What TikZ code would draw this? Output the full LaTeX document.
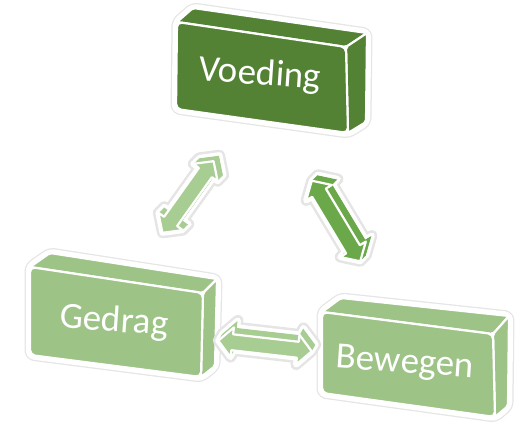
\documentclass[tikz,border=0pt]{standalone}
\usepackage{fontspec}
\setmainfont{Carlito}
\definecolor{dkgreen}{HTML}{548235}
\definecolor{ltgreen}{HTML}{9DC387}
\definecolor{argreen}{HTML}{A8CD93}
\definecolor{midgreen}{HTML}{6AA84A}
\definecolor{halo}{gray}{0.9}
\tikzset{
  lbl/.style={text=white, font=\fontsize{37}{42}\selectfont, inner sep=0pt},
  halostroke/.style={draw=halo, line width=11pt, line join=round, fill=white},
  whitestroke/.style={draw=white, line width=8.5pt, line join=round, fill=white},
  facestroke/.style={draw=white, line width=2.2pt, line join=round},
}
% double arrow outline in local coordinates
\newcommand\apath[1]{(-#1/2,0) -- ({-#1/2+14},15) -- ({-#1/2+14},8) -- ({#1/2-14},8) -- ({#1/2-14},15) -- ({#1/2},0) -- ({#1/2-14},-15) -- ({#1/2-14},-8) -- ({-#1/2+14},-8) -- ({-#1/2+14},-15) -- cycle}
% #1 cx #2 cy #3 angle #4 length #5 ex #6 ey #7 colour
\newcommand\tdarrow[7]{%
  \foreach \i in {10,...,0}{%
    \begin{scope}[shift={({#5*\i/10},{#6*\i/10})}]
      \begin{scope}[shift={(#1,#2)},rotate=#3]
        \path[halostroke] \apath{#4};
      \end{scope}
    \end{scope}}
  \foreach \i in {10,...,0}{%
    \begin{scope}[shift={({#5*\i/10},{#6*\i/10})}]
      \begin{scope}[shift={(#1,#2)},rotate=#3]
        \path[draw=white, line width=6pt, line join=round] \apath{#4};
      \end{scope}
    \end{scope}}
  \begin{scope}[shift={(#5,#6)}]
    \begin{scope}[shift={(#1,#2)},rotate=#3]
      \path[fill=#7, facestroke] \apath{#4};
    \end{scope}
  \end{scope}
  \foreach \i in {9,...,1}{%
    \begin{scope}[shift={({#5*\i/10},{#6*\i/10})}]
      \begin{scope}[shift={(#1,#2)},rotate=#3]
        \path[fill=#7] \apath{#4};
      \end{scope}
    \end{scope}}
  \begin{scope}[shift={(#1,#2)},rotate=#3]
    \path[fill=#7, facestroke] \apath{#4};
  \end{scope}
}
% 3D box from named coordinates
\newcommand\drawbox[2]{%
  \path[halostroke, rounded corners=4pt] (#1ftl) -- (#1btl) -- (#1btr) -- (#1bbr) -- (#1fbr) -- (#1fbl) -- cycle;
  \path[whitestroke, rounded corners=4pt] (#1ftl) -- (#1btl) -- (#1btr) -- (#1bbr) -- (#1fbr) -- (#1fbl) -- cycle;
  \path[fill=#2, facestroke, rounded corners=2pt] (#1ftl) -- (#1btl) -- (#1btr) -- (#1ftr) -- cycle;
  \path[fill=#2, facestroke, rounded corners=2pt] (#1ftr) -- (#1btr) -- (#1bbr) -- (#1fbr) -- cycle;
  \path[fill=#2, facestroke, rounded corners=5pt] (#1ftl) -- (#1ftr) -- (#1fbr) -- (#1fbl) -- cycle;
}
\begin{document}
\begin{tikzpicture}[x=1pt, y=-1pt]
\useasboundingbox (0,0) rectangle (523,425);
% Voeding
\coordinate (vftl) at (177,22);
\coordinate (vftr) at (346,47);
\coordinate (vfbr) at (348,133);
\coordinate (vfbl) at (176,109);
\coordinate (vbtl) at (193,8);
\coordinate (vbtr) at (367,33);
\coordinate (vbbr) at (366,122);
% Gedrag
\coordinate (gftl) at (30,267);
\coordinate (gftr) at (203,293);
\coordinate (gfbr) at (201,377);
\coordinate (gfbl) at (30,355);
\coordinate (gbtl) at (50,253);
\coordinate (gbtr) at (217,279);
\coordinate (gbbr) at (215,366);
% Bewegen
\coordinate (bftl) at (322,312);
\coordinate (bftr) at (493,334);
\coordinate (bfbr) at (495,417);
\coordinate (bfbl) at (322,393);
\coordinate (bbtl) at (341,298);
\coordinate (bbtr) at (509,316);
\coordinate (bbbr) at (508,406);

\drawbox{v}{dkgreen}
\drawbox{g}{ltgreen}
\drawbox{b}{ltgreen}

\node[lbl, rotate=-4] (voeding) at (260,75) {Voeding};
\node[lbl, rotate=-4] (gedrag) at (114,322) {Gedrag};
\node[lbl, rotate=-4] (bewegen) at (405,364) {Bewegen};

% arrows
\tdarrow{188}{197}{54.5}{88}{6}{-6}{argreen}
\tdarrow{336}{221}{-59}{94}{6}{-6}{midgreen}
\tdarrow{265}{346}{-6.5}{94}{4}{-7}{argreen}
\end{tikzpicture}
\end{document}
